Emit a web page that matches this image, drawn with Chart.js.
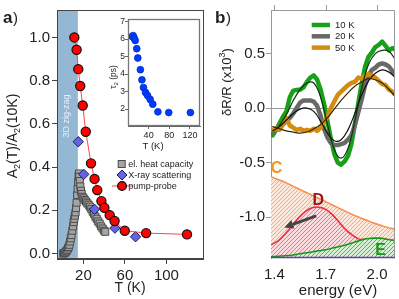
<!DOCTYPE html>
<html><head><meta charset="utf-8">
<script src="https://cdn.jsdelivr.net/npm/chart.js@4.4.1/dist/chart.umd.min.js"></script>
<style>
html,body{margin:0;padding:0;background:#fff;width:399px;height:299px;overflow:hidden}
canvas{position:absolute}
</style></head><body>
<canvas id="ca" width="210" height="299" style="left:0px;top:0px"></canvas>
<canvas id="cin" width="105" height="160" style="left:100px;top:0px"></canvas>
<canvas id="cb" width="199" height="299" style="left:200px;top:0px"></canvas>
<canvas id="ov" width="399" height="299" style="left:0px;top:0px"></canvas>
<script>
// ---------- panel a data ----------
const pumpT = [11.2,13.4,15.0,16.9,19.3,22.2,27.3,30.7,33.3,37.3,40.2,45.3,50.0,59.8,80.4,119.8];
const pumpA = [1.0,0.943,0.853,0.775,0.685,0.563,0.417,0.345,0.293,0.242,0.211,0.177,0.15,0.105,0.094,0.088];
const xrayT = [15.0,20.3,30.7,50.3,70.2];
const xrayA = [0.517,0.366,0.204,0.117,0.077];
const heatT = [0.5,1.2,2.0,2.7,3.5,4.3,5.1,5.8,6.5,7.2,7.8,8.5,9.3,10.0,10.6,11.2,11.8,12.4,12.9,13.4,13.9,14.4,14.9,15.4,15.7,16.0,16.5,17.0,17.6,18.3,19.2,20.2,21.3,22.5,23.7,25.0,26.3,27.6,28.9,30.2,31.5,32.8,34.2,35.6,37.0,38.5,40.0,41.0];
const heatA = [0.0,0.0,0.003,0.005,0.01,0.015,0.023,0.03,0.04,0.055,0.07,0.085,0.105,0.125,0.145,0.16,0.175,0.19,0.21,0.235,0.27,0.30,0.33,0.36,0.37,0.355,0.335,0.31,0.29,0.275,0.262,0.255,0.247,0.24,0.232,0.225,0.216,0.205,0.193,0.183,0.17,0.16,0.148,0.138,0.125,0.115,0.105,0.10];
const zigzagMaxT = 14.6;
const aXTicks = [20,60,100];
const aYTicks = [0,0.2,0.4,0.6,0.8,1.0];
const legendA = ['el. heat capacity','X-ray scattering','pump-probe'];
// inset
const tauT  = [8,10,12,14,17,19,24,27,30,34,38,43,48,58,79,121];
const tauPs = [6.15,6.2,6.05,5.92,5.45,4.92,4.25,3.67,3.23,2.95,2.77,2.55,2.28,1.84,1.80,1.80];
const inXTicks = [40,80,120];
const inYTicks = [2,3,4,5,6,7];
// ---------- panel b data ----------
const energy = [1.39,1.41,1.43,1.45,1.47,1.49,1.51,1.53,1.55,1.57,1.59,1.61,1.63,1.65,1.67,1.69,1.71,1.73,1.75,1.77,1.79,1.81,1.83,1.85,1.87,1.89,1.91,1.93,1.95,1.97,1.99,2.01,2.03,2.05,2.07,2.09,2.10];
const r10K = [-0.25,-0.20,-0.14,-0.08,-0.03,0.10,0.16,0.165,0.17,0.19,0.24,0.28,0.30,0.26,0.17,0.04,-0.12,-0.28,-0.42,-0.50,-0.52,-0.49,-0.44,-0.33,-0.15,0.04,0.22,0.38,0.47,0.51,0.56,0.58,0.61,0.57,0.53,0.55,0.54];
const r20K = [-0.22,-0.20,-0.18,-0.15,-0.12,-0.09,-0.05,0.00,0.05,0.07,0.07,0.07,0.06,0.02,-0.07,-0.19,-0.27,-0.32,-0.34,-0.34,-0.33,-0.32,-0.29,-0.25,-0.16,-0.04,0.08,0.21,0.30,0.35,0.37,0.40,0.41,0.40,0.38,0.34,0.32];
const r50K = [-0.20,-0.19,-0.20,-0.15,-0.09,-0.16,-0.18,-0.20,-0.19,-0.21,-0.20,-0.21,-0.19,-0.21,-0.18,-0.13,-0.08,0.00,0.06,0.12,0.15,0.18,0.21,0.23,0.24,0.28,0.27,0.30,0.31,0.30,0.28,0.25,0.22,0.21,0.17,0.15,0.13];
const energyFit = [1.39,1.43,1.47,1.51,1.55,1.59,1.63,1.67,1.71,1.75,1.79,1.83,1.87,1.91,1.95,1.99,2.03,2.07,2.10];
const fit10K = [null,-0.16,-0.06,0.07,0.17,0.23,0.23,0.10,-0.15,-0.38,-0.46,-0.37,-0.12,0.18,0.40,0.50,0.53,0.52,0.46];
const fit20K = [-0.21,-0.17,-0.11,-0.05,-0.01,0.00,-0.03,-0.12,-0.23,-0.30,-0.29,-0.20,-0.05,0.12,0.25,0.32,0.35,0.33,0.29];
const fit50K = [-0.17,-0.19,-0.21,-0.22,-0.23,-0.22,-0.19,-0.15,-0.09,-0.01,0.07,0.14,0.20,0.24,0.27,0.26,0.23,0.17,0.12];
const energyComp = [1.38,1.42,1.46,1.50,1.54,1.58,1.62,1.66,1.70,1.74,1.78,1.82,1.86,1.90,1.94,1.98,2.02,2.06,2.10,2.105];
const compC = [-0.63,-0.655,-0.68,-0.71,-0.74,-0.77,-0.80,-0.83,-0.86,-0.89,-0.92,-0.95,-0.98,-1.005,-1.03,-1.055,-1.075,-1.095,-1.11,-1.112];
const compD = [-1.255,-1.22,-1.16,-1.085,-1.01,-0.95,-0.915,-0.91,-0.93,-0.98,-1.05,-1.12,-1.17,-1.205,-1.20,-1.195,-1.195,-1.205,-1.215,-1.217];
const compE = [-1.365,-1.36,-1.355,-1.35,-1.34,-1.33,-1.32,-1.31,-1.30,-1.285,-1.27,-1.255,-1.235,-1.215,-1.20,-1.195,-1.195,-1.205,-1.215,-1.217];
const seriesLabels = ['10 K','20 K','50 K'];
const compLabels = ['C','D','E'];
const compLabelPos = [[1.413,-0.555],[1.657,-0.85],[2.02,-1.31]];
const arrowFrom = [1.644,-0.99];
const arrowTo = [1.458,-1.095];
const bXTicks = [1.4,1.7,2.0];
const bYTicks = [-1.0,-0.5,0.0,0.5];

// ---------- helpers ----------
const FONT = '"Liberation Sans", Arial, Helvetica, sans-serif';
const pts = (xs, ys) => xs.map((x,i)=>({x:x, y:ys[i]}));
function fixW(w){return s=>{s.width=w;s.paddingLeft=s.paddingRight=s.paddingTop=s.paddingBottom=0;};}
function fixH(h){return s=>{s.height=h;s.paddingLeft=s.paddingRight=s.paddingTop=s.paddingBottom=0;};}
function setTicks(arr){return s=>{s.ticks=arr.map(v=>({value:v}));};}
function hatch(bg, fg){
  const c=document.createElement('canvas'); c.width=c.height=4;
  const g=c.getContext('2d'); g.fillStyle=bg; g.fillRect(0,0,4,4);
  g.strokeStyle=fg; g.lineWidth=1; g.beginPath();
  g.moveTo(0,4); g.lineTo(4,0); g.moveTo(-1,1); g.lineTo(1,-1); g.moveTo(3,5); g.lineTo(5,3); g.stroke();
  return g.createPattern(c,'repeat');
}
const ink = '#222';
const common = {responsive:false, animation:false, devicePixelRatio:1, plugins:{legend:{display:false}, tooltip:{enabled:false}}};

// ---------- panel a ----------
const bandPlugin = {id:'band',
  beforeDatasetsDraw(ch){
    const a=ch.chartArea, c=ch.ctx, xr=ch.scales.x.getPixelForValue(zigzagMaxT);
    c.save(); c.fillStyle='rgb(148,183,211)'; c.fillRect(a.left,a.top,xr-a.left,a.bottom-a.top);
    c.translate((a.left+xr)/2-1, 116); c.rotate(-Math.PI/2);
    c.fillStyle='rgba(236,242,250,0.95)'; c.font='9px '+FONT; c.textAlign='center'; c.textBaseline='middle';
    c.fillText('3D zig-zag',0,0); c.restore();
  },
  afterDatasetsDraw(ch){
    const a=ch.chartArea, c=ch.ctx; c.save(); c.strokeStyle='#444'; c.lineWidth=1;
    c.strokeRect(Math.round(a.left)+0.5, Math.round(a.top)+0.5, Math.round(a.right-a.left)-1, Math.round(a.bottom-a.top)-1);
    c.restore();
  }};
new Chart(document.getElementById('ca'), {
  type:'scatter',
  data:{datasets:[
    {data:pts(pumpT,pumpA), showLine:true, borderColor:'rgb(255,70,70)', borderWidth:1, pointRadius:4.6,
     pointBackgroundColor:'rgb(255,0,0)', pointBorderColor:'#111', pointBorderWidth:1.2, order:0},
    {data:pts(xrayT,xrayA), pointStyle:'rectRot', pointRadius:5.2, pointBackgroundColor:'rgb(100,100,235)',
     pointBorderColor:'rgb(30,30,80)', pointBorderWidth:1, order:1},
    {data:pts(heatT,heatA), pointStyle:'rect', pointRadius:5, pointBackgroundColor:'rgb(165,165,165)',
     pointBorderColor:'rgb(75,75,75)', pointBorderWidth:1, order:2}
  ]},
  options:Object.assign({}, common, {
    layout:{padding:{left:0,top:10,right:3,bottom:0}},
    scales:{
      x:{type:'linear', min:-5.5, max:136, afterBuildTicks:setTicks(aXTicks), afterFit:fixH(40),
         grid:{drawOnChartArea:false, tickLength:5, color:'#444'}, border:{color:'#444'},
         ticks:{padding:3, color:ink, autoSkip:false, maxRotation:0, font:{family:FONT,size:15}, callback:v=>String(v)}},
      y:{type:'linear', min:-0.026, max:1.127, afterBuildTicks:setTicks(aYTicks), afterFit:fixW(57),
         grid:{drawOnChartArea:false, tickLength:5, color:'#444'}, border:{color:'#444'},
         ticks:{padding:2, color:ink, autoSkip:false, font:{family:FONT,size:15}, callback:v=>v.toFixed(1)}}
    }}),
  plugins:[bandPlugin]
});

// ---------- inset ----------
const insetFrame = {id:'inframe', afterDatasetsDraw(ch){
  const a=ch.chartArea, c=ch.ctx; c.save(); c.strokeStyle='#777'; c.lineWidth=1.3;
  c.strokeRect(Math.round(a.left)+0.5, Math.round(a.top)+0.5, Math.round(a.right-a.left)-1, Math.round(a.bottom-a.top)-1);
  c.restore(); }};
new Chart(document.getElementById('cin'), {
  type:'scatter',
  data:{datasets:[{data:pts(tauT,tauPs), pointRadius:3.4, pointBackgroundColor:'rgb(0,60,255)',
    pointBorderColor:'rgb(0,45,200)', pointBorderWidth:0.8}]},
  options:Object.assign({}, common, {
    layout:{padding:{left:0,top:19,right:4,bottom:0}},
    scales:{
      x:{type:'linear', min:0, max:140, afterBuildTicks:setTicks(inXTicks), afterFit:fixH(34),
         grid:{drawOnChartArea:false, tickLength:3, color:'#666'}, border:{color:'#666'},
         ticks:{padding:1, color:ink, autoSkip:false, maxRotation:0, font:{family:FONT,size:9}, callback:v=>String(v)}},
      y:{type:'linear', min:1.03, max:7.15, afterBuildTicks:setTicks(inYTicks), afterFit:fixW(28),
         grid:{drawOnChartArea:false, tickLength:3, color:'#666'}, border:{color:'#666'},
         ticks:{padding:0, color:ink, autoSkip:false, font:{family:FONT,size:8.5}, callback:v=>String(v)}}
    }}),
  plugins:[insetFrame]
});

// ---------- panel b ----------
const hC = hatch('rgb(253,230,218)','rgb(247,168,138)');
const hD = hatch('rgb(251,218,222)','rgb(238,120,132)');
const hE = hatch('rgb(214,238,212)','rgb(92,178,92)');
const bColors = ['rgb(25,160,25)','rgb(105,105,105)','rgb(212,140,15)'];
const bPlugin = {id:'bdeco',
  beforeDatasetsDraw(ch){
    const a=ch.chartArea, c=ch.ctx, y0=Math.round(ch.scales.y.getPixelForValue(0))+0.5;
    c.save(); c.strokeStyle='#999'; c.lineWidth=1; c.beginPath(); c.moveTo(a.left,y0); c.lineTo(a.right,y0); c.stroke(); c.restore();
  },
  afterDatasetsDraw(ch){
    const a=ch.chartArea, c=ch.ctx, xs=ch.scales.x, ys=ch.scales.y;
    c.save();
    c.strokeStyle='#999'; c.lineWidth=1; c.beginPath();
    c.moveTo(a.left, Math.round(a.top)+0.5); c.lineTo(Math.round(a.right)-0.5, Math.round(a.top)+0.5);
    c.lineTo(Math.round(a.right)-0.5, a.bottom); c.stroke();
    c.beginPath();
    bXTicks.forEach(v=>{const x=Math.round(xs.getPixelForValue(v))+0.5; c.moveTo(x,a.top-5); c.lineTo(x,a.top);});
    c.stroke();
    c.strokeStyle='rgb(105,60,170)'; c.lineWidth=1.5; c.beginPath();
    c.moveTo(a.left,a.bottom-0.5); c.lineTo(a.right,a.bottom-0.5); c.stroke();
    const x1=xs.getPixelForValue(arrowFrom[0]), y1=ys.getPixelForValue(arrowFrom[1]);
    const x2=xs.getPixelForValue(arrowTo[0]), y2=ys.getPixelForValue(arrowTo[1]);
    const ang=Math.atan2(y2-y1,x2-x1), hl=9, hw=4.5;
    const bx=x2-hl*Math.cos(ang), by=y2-hl*Math.sin(ang);
    c.strokeStyle='#444'; c.fillStyle='#444'; c.lineWidth=3; c.lineCap='butt';
    c.beginPath(); c.moveTo(x1,y1); c.lineTo(bx,by); c.stroke();
    c.beginPath(); c.moveTo(x2,y2);
    c.lineTo(bx+hw*Math.sin(ang), by-hw*Math.cos(ang)); c.lineTo(bx-hw*Math.sin(ang), by+hw*Math.cos(ang)); c.closePath(); c.fill();
    const lc=['rgb(247,148,30)','rgb(160,20,30)','rgb(25,150,25)'];
    c.font='bold 16px '+FONT; c.textAlign='center'; c.textBaseline='middle';
    compLabels.forEach((t,i)=>{c.fillStyle=lc[i]; c.fillText(t, xs.getPixelForValue(compLabelPos[i][0]), ys.getPixelForValue(compLabelPos[i][1]));});
    c.font='9.5px '+FONT; c.textAlign='left'; c.textBaseline='middle';
    seriesLabels.forEach((t,i)=>{const y=25+i*11.3; c.strokeStyle=bColors[i]; c.lineWidth=4.5;
      c.beginPath(); c.moveTo(111.7,y); c.lineTo(130,y); c.stroke(); c.fillStyle=ink; c.fillText(t,135,y+0.5);});
    c.restore();
  }};
const lineDs = (xs, ys, color, w, order, tension) => ({data:pts(xs,ys), showLine:true, borderColor:color, borderWidth:w,
  pointRadius:0, order:order, tension:tension, fill:false, borderJoinStyle:'round', borderCapStyle:'round'});
new Chart(document.getElementById('cb'), {
  type:'scatter',
  data:{datasets:[
    {data:pts(energyComp,compC), showLine:true, fill:'+1', backgroundColor:hC, borderColor:'rgb(250,140,70)', borderWidth:1.5, pointRadius:0, tension:0.3, order:10},
    {data:pts(energyComp,compD), showLine:true, fill:'+1', backgroundColor:hD, borderColor:'rgb(236,40,60)', borderWidth:1.5, pointRadius:0, tension:0.3, order:9},
    {data:pts(energyComp,compE), showLine:true, fill:'start', backgroundColor:hE, borderColor:'rgb(25,150,25)', borderWidth:1.5, pointRadius:0, tension:0.3, order:8},
    lineDs(energy, r10K, bColors[0], 4.5, 6, 0),
    lineDs(energy, r20K, bColors[1], 4.5, 5, 0),
    lineDs(energy, r50K, bColors[2], 4.5, 4, 0),
    lineDs(energyFit, fit10K, 'rgb(15,50,15)', 1.2, 2, 0.4),
    lineDs(energyFit, fit20K, '#111', 1.2, 1, 0.4),
    lineDs(energyFit, fit50K, 'rgb(60,40,0)', 1.2, 0, 0.4)
  ]},
  options:Object.assign({}, common, {
    layout:{padding:{left:0,top:10,right:4,bottom:0}},
    scales:{
      x:{type:'linear', min:1.38, max:2.105, afterBuildTicks:setTicks(bXTicks), afterFit:fixH(41),
         grid:{drawOnChartArea:false, drawTicks:false, tickLength:0, color:'#999'}, border:{display:false},
         ticks:{padding:8, color:ink, autoSkip:false, maxRotation:0, font:{family:FONT,size:15}, callback:v=>v.toFixed(1)}},
      y:{type:'linear', min:-1.376, max:0.9, afterBuildTicks:setTicks(bYTicks), afterFit:fixW(71),
         grid:{drawOnChartArea:false, tickLength:5, color:'#999'}, border:{color:'#999'},
         ticks:{padding:1, color:ink, autoSkip:false, font:{family:FONT,size:15}, callback:v=>v.toFixed(1)}}
    }}),
  plugins:[bPlugin]
});

// ---------- overlay texts ----------
const ov = document.getElementById('ov').getContext('2d');
function rich(x, y, segs, rot){
  ov.save(); ov.translate(x,y); if(rot) ov.rotate(rot);
  let total=0; segs.forEach(s=>{ov.font=s.f; s.w=ov.measureText(s.t).width; total+=s.w;});
  let cx=-total/2; ov.textBaseline='alphabetic'; ov.textAlign='left';
  segs.forEach(s=>{ov.font=s.f; ov.fillStyle=s.c||ink; ov.fillText(s.t,cx,s.dy||0); cx+=s.w;});
  ov.restore();
}
const F = (sz,b)=>(b?'bold ':'')+sz+'px '+FONT;
ov.fillStyle=ink; ov.textBaseline='alphabetic';
ov.font=F(17,true); ov.fillText('a',3,23); let wa=ov.measureText('a').width; ov.font=F(15); ov.fillText(')',3+wa+0.5,23);
ov.font=F(17,true); ov.fillText('b',215,23); let wb=ov.measureText('b').width; ov.font=F(15); ov.fillText(')',215+wb+0.5,23);
rich(12,136,[{t:'A',f:F(14),dy:5},{t:'2',f:F(9),dy:8},{t:'(T)/A',f:F(14),dy:5},{t:'2',f:F(9),dy:8},{t:'(10K)',f:F(14),dy:5}],-Math.PI/2);
rich(130,292,[{t:'T (K)',f:F(14)}]);
rich(113,77,[{t:'\u03c4',f:F(8.5),dy:3},{t:'2',f:F(6),dy:5},{t:' (ps)',f:F(8.5),dy:3}],-Math.PI/2);
rich(153,149,[{t:'T (K)',f:F(9.5)}]);
rich(226,82,[{t:'\u03b4R/R (x10',f:F(13),dy:4.5},{t:'3',f:F(9),dy:-1},{t:')',f:F(13),dy:4.5}],-Math.PI/2);
rich(338,295,[{t:'energy (eV)',f:F(15)}]);
ov.font=F(9); ov.textBaseline='middle'; ov.textAlign='left';
ov.fillStyle='rgb(165,165,165)'; ov.strokeStyle='rgb(75,75,75)'; ov.lineWidth=1;
ov.fillRect(118.2,160.5,7,7); ov.strokeRect(118.2,160.5,7,7);
ov.fillStyle=ink; ov.fillText(legendA[0],128.3,164.5);
ov.beginPath(); ov.moveTo(122,170); ov.lineTo(127,175); ov.lineTo(122,180); ov.lineTo(117,175); ov.closePath();
ov.fillStyle='rgb(100,100,235)'; ov.fill(); ov.strokeStyle='rgb(30,30,80)'; ov.stroke();
ov.fillStyle=ink; ov.fillText(legendA[1],128.3,175.5);
ov.strokeStyle='rgb(255,70,70)'; ov.beginPath(); ov.moveTo(112,186); ov.lineTo(132,186); ov.stroke();
ov.beginPath(); ov.arc(122,186,4.4,0,Math.PI*2); ov.fillStyle='rgb(255,0,0)'; ov.fill(); ov.strokeStyle='#111'; ov.lineWidth=1.2; ov.stroke();
ov.fillStyle=ink; ov.fillText(legendA[2],128.3,186.5);
</script>
</body></html>
